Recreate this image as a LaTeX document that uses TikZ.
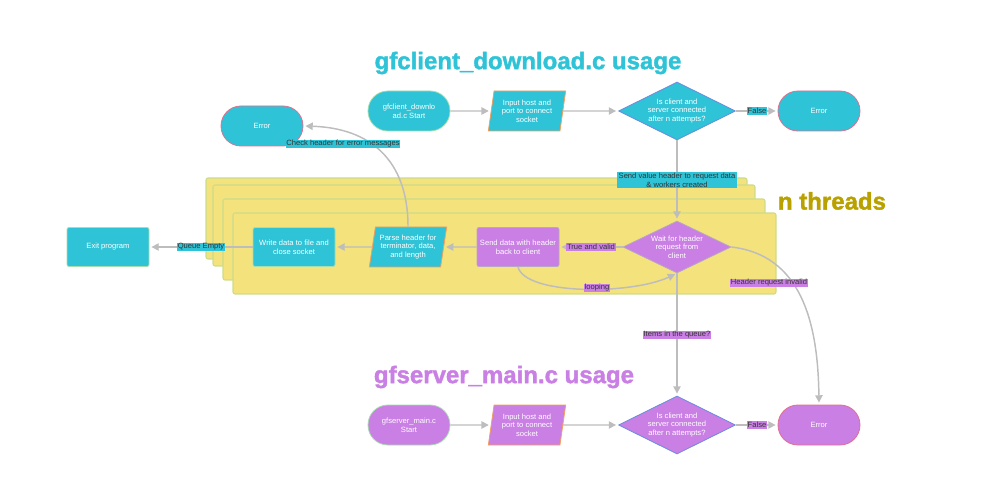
\documentclass[tikz,border=0pt]{standalone}
\usepackage{fontspec}
\setmainfont{Liberation Sans}
\newfontfamily\heavy[BoldFont={* Bold},BoldFeatures={FakeBold=1.6}]{Liberation Sans}
\usetikzlibrary{shapes.geometric,arrows.meta}
\definecolor{cy}{HTML}{2EC3D6}
\definecolor{pu}{HTML}{C97FE3}
\definecolor{ye}{HTML}{F4E27C}
\definecolor{yeb}{HTML}{CCDD8C}
\definecolor{ar}{HTML}{BDBDBD}
\definecolor{tx}{HTML}{333333}
\definecolor{ttl}{HTML}{B9A100}
\definecolor{bgreen}{HTML}{A8DDB0}
\definecolor{borange}{HTML}{F0A060}
\definecolor{bblue}{HTML}{6A8BE0}
\definecolor{bpink}{HTML}{E0708F}
\definecolor{bgray}{HTML}{B9A6C6}
\begin{document}
\begin{tikzpicture}[x=0.75pt,y=-0.75pt,
  box/.style={draw, line width=0.6pt, text=white, font=\fontsize{5.7}{6.5}\selectfont, align=center, inner sep=0pt},
  term/.style={box, rectangle, rounded corners=14.9pt, minimum width=61.5pt, minimum height=30pt},
  proc/.style={box, rectangle, rounded corners=1.5pt, minimum width=61.5pt, minimum height=29.25pt},
  para/.style={box, trapezium, trapezium left angle=76, trapezium right angle=104, trapezium stretches body, minimum width=58pt, minimum height=30pt},
  dec/.style={box, diamond, minimum width=87.75pt, minimum height=43.5pt},
  dtext/.style={label={[text=white, font=\fontsize{5.7}{6.5}\selectfont, align=center, inner sep=0pt]center:#1}},
  lab/.style={font=\fontsize{5.7}{6.5}\selectfont, text=tx, inner sep=0.6pt, align=center},
  conn/.style={draw=ar, line width=1.1pt, -{Triangle[length=5.5pt,width=5.5pt]}, shorten >=1.5pt},
  yel/.style={draw=yeb, fill=ye, line width=0.8pt, rounded corners=1.5pt},
  ttlf/.style={font=\fontsize{18}{20}\selectfont\heavy\bfseries}
]
\useasboundingbox (0,0) rectangle (1008,481);

% yellow thread stack
\draw[yel] (206,178) rectangle (747,259);
\draw[yel] (213,185) rectangle (755,266);
\draw[yel] (223,199) rectangle (765,280);
\draw[yel] (233,213) rectangle (776,294);

% titles
\node[ttlf, text=cy] (t1) at (528,63) {gfclient\_download.c usage};
\node[ttlf, text=pu] (t2) at (504,377) {gfserver\_main.c usage};
\node[ttlf, text=ttl] (t3) at (832,201) {n threads};

% top row
\node[term, fill=cy, draw=bgreen] (cstart) at (409,111) {gfclient\_downlo\\ad.c Start};
\node[para, fill=cy, draw=borange] (cin) at (527,111) {Input host and\\port to connect\\socket};
\node[dec, fill=cy, draw=bblue, dtext={Is client and\\server connected\\after n attempts?}] (cdec) at (677,111) {};
\node[term, fill=cy, draw=bpink] (cerr) at (819,111) {Error};
\node[term, fill=cy, draw=bpink] (err1) at (262,126) {Error};

% middle row
\node[proc, fill=cy, draw=bgreen] (exit) at (108,247) {Exit program};
\node[proc, fill=cy, draw=bgreen] (write) at (294,247) {Write data to file and\\close socket};
\node[para, fill=cy, draw=borange] (parse) at (408,247) {Parse header for\\terminator, data,\\and length};
\node[proc, fill=pu, draw=bgray] (send) at (518,247) {Send data with header\\back to client};
\node[dec, fill=pu, draw=bgray, minimum width=81pt, minimum height=39pt, dtext={Wait for header\\request from\\client}] (wait) at (677,247) {};

% bottom row
\node[term, fill=pu, draw=bgreen] (sstart) at (409,425) {gfserver\_main.c\\Start};
\node[para, fill=pu, draw=borange] (sin) at (527,425) {Input host and\\port to connect\\socket};
\node[dec, fill=pu, draw=bblue, dtext={Is client and\\server connected\\after n attempts?}] (sdec) at (677,425) {};
\node[term, fill=pu, draw=bpink] (serr) at (819,425) {Error};

% connectors
\draw[conn] (cstart) -- (cin);
\draw[conn] (cin) -- (cdec);
\draw[conn] (cdec) -- (cerr);
\draw[conn] (cdec.south) -- (wait.north);
\draw[conn] (wait) -- (send);
\draw[conn] (send) -- (parse);
\draw[conn] (parse) -- (write);
\draw[conn] (write) -- (exit);
\draw[conn] (parse.north) .. controls (408,160) and (370,128) .. (err1.east);
\draw[conn] (send.south) .. controls (525,295) and (630,295) .. (wait.south);
\draw[conn] (wait.east) .. controls (800,255) and (818,320) .. (serr.north);
\draw[conn] (wait.south) -- (sdec.north);
\draw[conn] (sstart) -- (sin);
\draw[conn] (sin) -- (sdec);
\draw[conn] (sdec) -- (serr);

% labels
\node[lab, fill=cy] (l1) at (757,111) {False};
\node[lab, fill=cy, inner xsep=1.5pt] (l2) at (677,180) {Send value header to request data\\\& workers created};
\node[lab, fill=cy] (l3) at (343,144) {Check header for error messages};
\node[lab, fill=cy] (l4) at (201,247) {Queue Empty};
\node[lab, fill=pu] (l5) at (591,247) {True and valid};
\node[lab, fill=pu] (l6) at (597,288) {looping};
\node[lab, fill=pu] (l7) at (769,283) {Header request invalid};
\node[lab, fill=pu] (l8) at (677,335) {Items in the queue?};
\node[lab, fill=pu] (l9) at (757,425) {False};
\end{tikzpicture}
\end{document}
